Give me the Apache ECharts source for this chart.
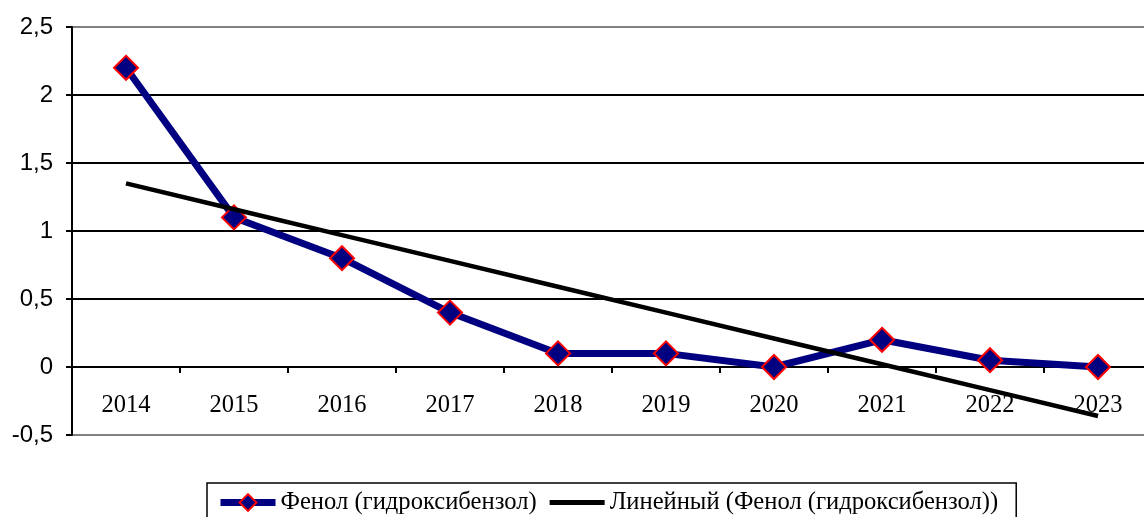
<!DOCTYPE html>
<html>
<head>
<meta charset="utf-8">
<script src="https://cdn.jsdelivr.net/npm/echarts@6/dist/echarts.min.js"></script>
<style>
html,body{margin:0;padding:0;background:#fff;overflow:hidden;width:1144px;height:517px;}
#c{width:1152px;height:517px;}
</style>
</head>
<body>
<div id="c"></div>
<script>
var years = ['2014','2015','2016','2017','2018','2019','2020','2021','2022','2023'];
var phenol = [2.2, 1.1, 0.8, 0.4, 0.1, 0.1, 0, 0.2, 0.05, 0];
var seriesName = 'Фенол (гидроксибензол)';
var trendName = 'Линейный (Фенол (гидроксибензол))';

// linear trend (least squares) computed from the series
var n = phenol.length, sx = 0, sy = 0, sxx = 0, sxy = 0;
for (var i = 0; i < n; i++) { var x = i + 1; sx += x; sy += phenol[i]; sxx += x * x; sxy += x * phenol[i]; }
var slope = (n * sxy - sx * sy) / (n * sxx - sx * sx);
var intercept = (sy - slope * sx) / n;
var trend = phenol.map(function (v, i) { return +(intercept + slope * (i + 1)).toFixed(4); });

var chart = echarts.init(document.getElementById('c'));
chart.setOption({
  animation: false,
  backgroundColor: '#fff',
  grid: {left: 72, right: 0, top: 27, height: 408, show: true, borderColor: '#808080', borderWidth: 2},
  xAxis: {
    type: 'category', data: years, boundaryGap: true,
    offset: -68,
    axisLine: {onZero: false, lineStyle: {color: '#000', width: 2}},
    axisTick: {show: true, length: 6, lineStyle: {color: '#000', width: 2}},
    axisLabel: {color: '#000', fontFamily: 'Liberation Serif', fontSize: 24.5, margin: 26},
    splitLine: {show: false}
  },
  yAxis: {
    type: 'value', min: -0.5, max: 2.5, interval: 0.5,
    axisLine: {show: true, lineStyle: {color: '#000', width: 2}},
    axisTick: {show: true, length: 6, lineStyle: {color: '#000', width: 2}},
    axisLabel: {color: '#000', fontFamily: 'Liberation Sans', fontSize: 24, margin: 19,
      formatter: function (v) { return String(v).replace('.', ','); }},
    splitLine: {show: true, lineStyle: {color: ['#808080','#000','#000','#000','#000','#000','#808080'], width: 2}}
  },
  legend: {
    left: 207, top: 483,
    padding: [7, 18, 20, 10],
    borderColor: '#000', borderWidth: 1.5,
    itemWidth: 55, itemHeight: 21, itemGap: 13,
    textStyle: {color: '#000', fontFamily: 'Liberation Serif', fontSize: 24.6},
    data: [
      {name: seriesName, lineStyle: {width: 7, color: '#000080'}},
      {name: trendName, icon: 'path://M0,0H55V5H0Z', itemStyle: {color: '#000'}}
    ]
  },
  series: [
    {
      name: seriesName, type: 'line', data: phenol,
      symbol: 'diamond', symbolSize: 24,
      lineStyle: {color: '#000080', width: 7},
      itemStyle: {color: '#000080', borderColor: '#ff0000', borderWidth: 2},
      z: 3
    },
    {
      name: trendName, type: 'line', data: trend,
      symbol: 'none', showSymbol: false,
      lineStyle: {color: '#000', width: 4.5},
      itemStyle: {color: '#000'},
      z: 4
    }
  ]
});
</script>
</body>
</html>
